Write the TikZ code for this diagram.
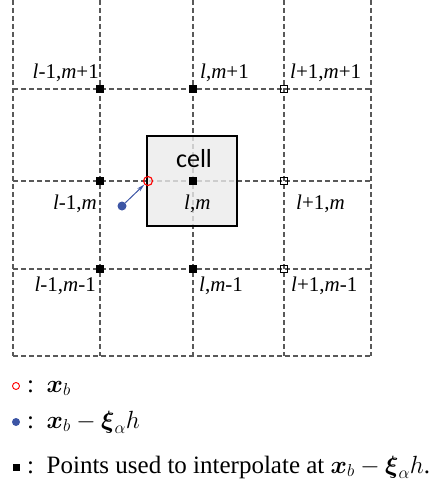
\documentclass[tikz,border=0pt]{standalone}
\usepackage{amsmath,amssymb}
\usepackage{fontspec}
\setmainfont{Liberation Serif}
\newfontfamily\cellfont{Carlito}
\usepackage{xcolor}
\usetikzlibrary{arrows.meta, positioning}

\definecolor{dotblue}{HTML}{3C55A5}

\begin{document}
\begin{tikzpicture}[
  x=1pt, y=-1pt,
  gridline/.style={draw=black!65, line width=1.1pt, dash pattern=on 5pt off 3pt},
  cellbox/.style={
    rectangle, draw=black, line width=1.2pt, fill=black!8,
    minimum width=90pt, minimum height=90pt, inner sep=0pt
  },
  usedpt/.style={rectangle, draw=black, fill=black, inner sep=0pt, minimum size=7pt},
  skippt/.style={rectangle, draw=black, line width=0.7pt, inner sep=0pt, minimum size=6.5pt},
  idxlabel/.style={font=\fontsize{21}{21}\selectfont, inner sep=0pt},
  legtext/.style={font=\fontsize{25}{27}\selectfont, inner sep=0pt, anchor=base west},
  bdpt/.style={circle, draw=red, line width=1.1pt, inner sep=0pt, minimum size=9pt},
  shiftpt/.style={circle, fill=dotblue, inner sep=0pt, minimum size=9pt},
  shiftarrow/.style={-{Stealth[length=8pt, width=4pt]}, draw=dotblue, line width=1pt}
]
\useasboundingbox (0,0) rectangle (446,487);

% grid
\foreach \gx in {13,100,193,284,371}
  \draw[gridline] (\gx,0) -- (\gx,356);
\foreach \gy in {89,181,269,356}
  \draw[gridline] (13,\gy) -- (371,\gy);

% cell
\node[cellbox, fill opacity=0.8] (cell) at (192,181) {};
\node[font=\cellfont\fontsize{26}{26}\selectfont, anchor=base, inner sep=0pt] (celltxt) at (194,167) {cell};

% stencil points
\foreach \gy/\nm in {89/top, 181/mid, 269/bot} {
  \node[usedpt] (w\nm) at (100,\gy) {};
  \node[usedpt] (c\nm) at (193,\gy) {};
  \node[skippt] (e\nm) at (284,\gy) {};
}

% index labels
\node[idxlabel, anchor=base east] (lwtop) at (99,78)  {\textit{l}-1,\textit{m}+1};
\node[idxlabel, anchor=base west] (lctop) at (200,78) {\textit{l},\textit{m}+1};
\node[idxlabel, anchor=base west] (letop) at (290,78) {\textit{l}+1,\textit{m}+1};
\node[idxlabel, anchor=base east] (lwmid) at (97,209) {\textit{l}-1,\textit{m}};
\node[idxlabel, anchor=base west] (lcmid) at (184,209) {\textit{l},\textit{m}};
\node[idxlabel, anchor=base west] (lemid) at (296,209) {\textit{l}+1,\textit{m}};
\node[idxlabel, anchor=base east] (lwbot) at (96,291) {\textit{l}-1,\textit{m}-1};
\node[idxlabel, anchor=base west] (lcbot) at (199,291) {\textit{l},\textit{m}-1};
\node[idxlabel, anchor=base west] (lebot) at (291,291) {\textit{l}+1,\textit{m}-1};

% x_b and shifted point
\node[bdpt] (xb) at (148,181) {};
\node[shiftpt] (xs) at (122,206) {};
\draw[shiftarrow] (xs) -- (xb);

% legend
\node[circle, draw=red, line width=0.9pt, inner sep=0pt, minimum size=7pt] (legb) at (16,386) {};
\node[legtext] (legbt) at (27,392) {:~~$\boldsymbol{x}_b$};
\node[shiftpt, minimum size=8pt] (legs) at (16,422) {};
\node[legtext] (legst) at (27,428) {:~~$\boldsymbol{x}_b-\boldsymbol{\xi}_\alpha h$};
\node[usedpt, minimum size=6pt] (legp) at (16,467) {};
\node[legtext] (legpt) at (27,473) {:~~Points used to interpolate at $\boldsymbol{x}_b-\boldsymbol{\xi}_\alpha h$.};
\end{tikzpicture}
\end{document}
